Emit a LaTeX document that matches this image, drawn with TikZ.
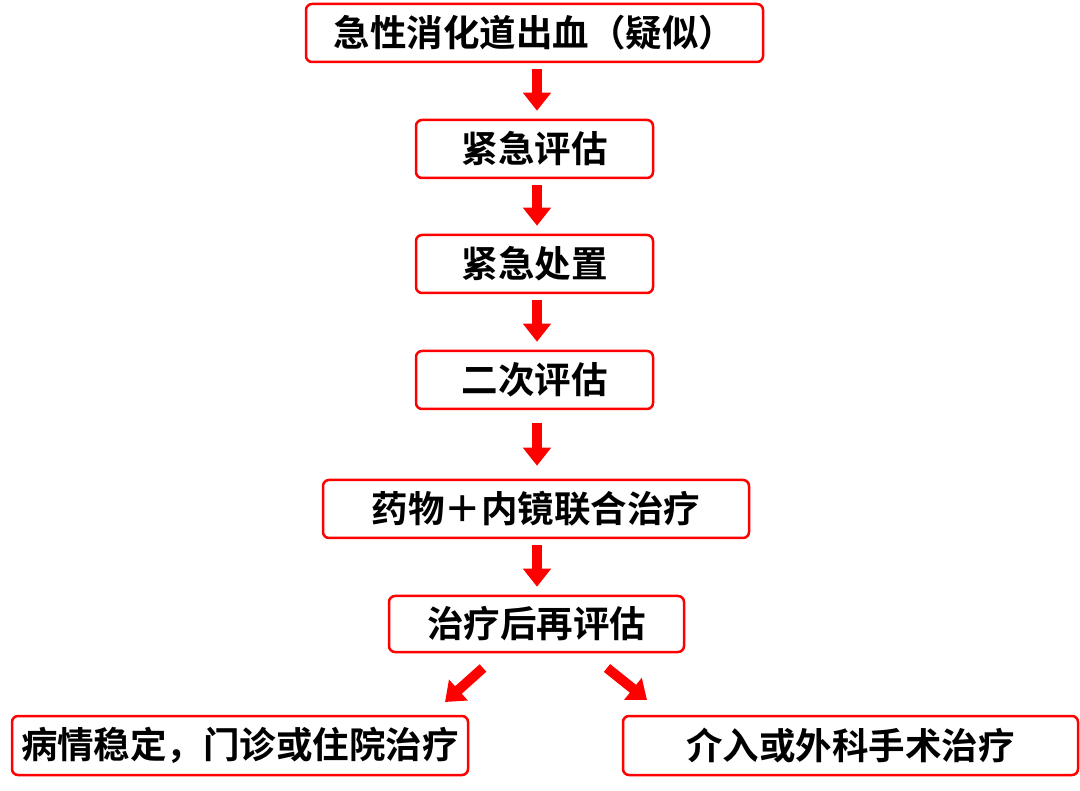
\documentclass[tikz,border=0pt]{standalone}
\usepackage{fontspec}
\setmainfont{Noto Sans CJK SC}[BoldFont={Noto Sans CJK SC Bold}]
\usetikzlibrary{arrows.meta}
\begin{document}
\begin{tikzpicture}[x=1pt,y=-1pt,
  box/.style={draw=red,line width=2.5pt,rounded corners=6pt,font=\bfseries\fontsize{36.5}{40}\selectfont,inner sep=0pt},
  arr/.style={red,line width=10pt,-{Triangle[length=18pt,width=27pt]}}]
\useasboundingbox (0,0) rectangle (1080,791);
\newcommand\bx[6]{\node[box,minimum width=#3-#2,minimum height=#5-#4] (#1) at ({(#2+#3)/2},{(#4+#5)/2}) {#6};}
\bx{a}{306}{763}{4}{62}{急性消化道出血（疑似）}
\bx{b}{416}{653}{120}{178}{紧急评估}
\bx{c}{416}{653}{235}{293}{紧急处置}
\bx{d}{416}{653}{351}{409}{二次评估}
\bx{e}{323}{749}{480}{538}{药物＋内镜联合治疗}
\bx{f}{389}{684}{596}{652}{治疗后再评估}
\bx{g}{12}{468}{716}{775}{病情稳定，门诊或住院治疗}
\bx{h}{623}{1078}{716}{775}{介入或外科手术治疗}
\coordinate (l1) at (483,668); \coordinate (l2) at (445,702);
\coordinate (r1) at (607,668); \coordinate (r2) at (647,700);
\draw[arr] ([yshift=-6pt]a.south -| 537,0) -- ([yshift=8pt]b.north -| 537,0);
\draw[arr] ([yshift=-6pt]b.south -| 537,0) -- ([yshift=8pt]c.north -| 537,0);
\draw[arr] ([yshift=-6pt]c.south -| 537,0) -- ([yshift=8pt]d.north -| 537,0);
\draw[arr] ([yshift=-13pt]d.south -| 537,0) -- ([yshift=13pt]e.north -| 537,0);
\draw[arr] ([yshift=-6pt]e.south -| 537,0) -- ([yshift=8pt]f.north -| 537,0);
\draw[arr] (l1) -- (l2);
\draw[arr] (r1) -- (r2);
\end{tikzpicture}
\end{document}
